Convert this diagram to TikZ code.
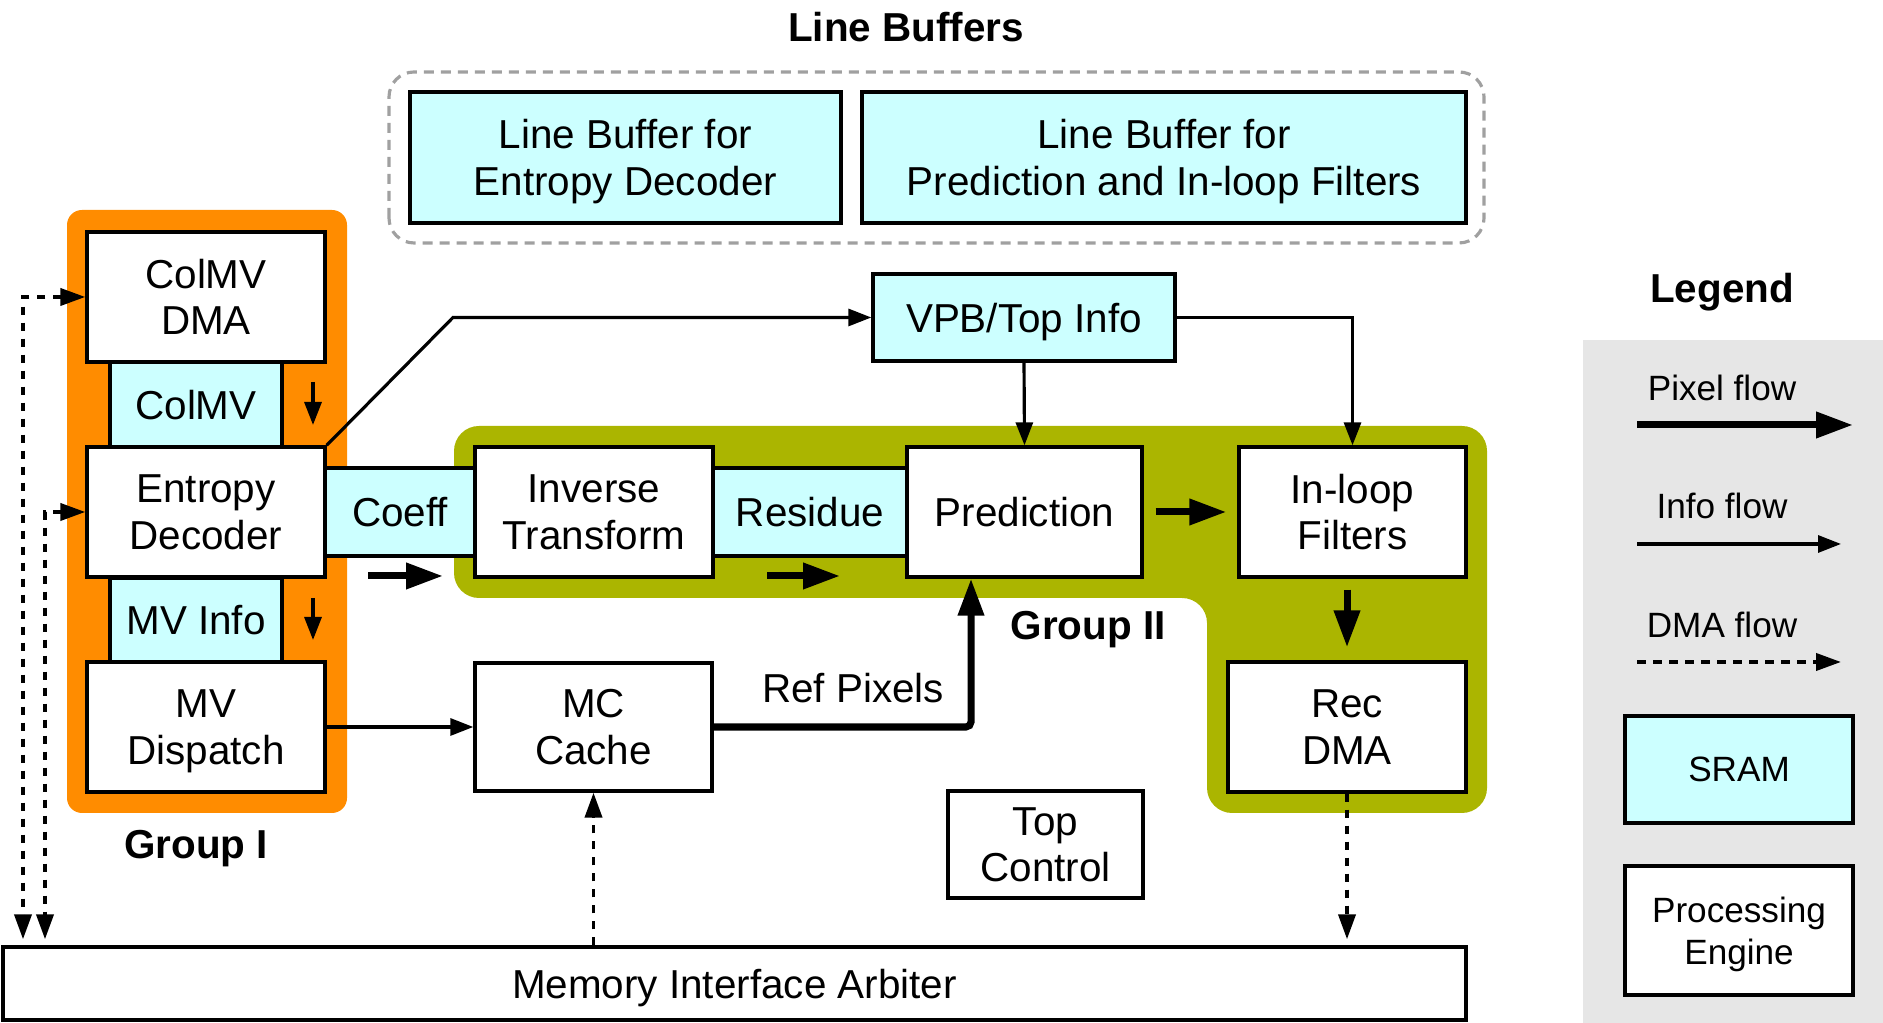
\documentclass[tikz,border=0pt]{standalone}
\usepackage{fontspec}
\setmainfont{Liberation Sans}
\usetikzlibrary{arrows.meta}
\definecolor{sramcyan}{RGB}{204,255,255}
\definecolor{grpone}{RGB}{255,140,0}
\definecolor{grptwo}{RGB}{171,181,0}
\definecolor{legendgray}{RGB}{230,230,230}
\definecolor{bufgray}{RGB}{160,160,160}

\tikzset{
  box/.style={draw, line width=0.95pt, fill=white, align=center, inner sep=0pt,
    text depth=0pt, font=\fontsize{11.5}{13.3}\selectfont},
  sram/.style={box, fill=sramcyan},
  legtext/.style={font=\fontsize{10}{12}\selectfont, align=center},
  grplabel/.style={font=\fontsize{11.5}{13.3}\selectfont\bfseries},
  infoflow/.style={line width=0.9pt, -{Triangle[length=2.3mm,width=1.7mm]}},
  pixflow/.style={line width=2pt, -{Triangle[length=3.7mm,width=2.5mm]}},
  dmaflow/.style={line width=1.1pt, dash pattern=on 0.85mm off 0.75mm,
    -{Triangle[length=2.5mm,width=1.7mm]}},
}

\begin{document}
\begin{tikzpicture}

\useasboundingbox (0,0) rectangle (18.83,10.23);

% Group backgrounds
\fill[grpone, rounded corners=1.5mm] (0.67,2.10) rectangle (3.47,8.13);
\fill[grptwo, rounded corners=2.5mm] (4.54,5.97) -- (14.87,5.97) -- (14.87,2.10)
  -- (12.07,2.10) -- (12.07,4.25) -- (4.54,4.25) -- cycle;
\draw[bufgray, line width=0.9pt, dash pattern=on 1mm off 0.7mm, rounded corners=2.5mm]
  (3.89,7.80) rectangle (14.84,9.51);

% Legend background
\fill[legendgray] (15.83,0) rectangle (18.83,6.83);

% Titles
\node[grplabel] (lbtitle) at (9.06,9.96) {Line Buffers};
\node[grplabel] (grp1) at (1.96,1.74) {Group I};
\node[grplabel] (grp2) at (10.88,3.93) {Group II};
\node[grplabel] (legtitle) at (17.22,7.31) {Legend};

% Line buffers
\node[sram, minimum width=4.31cm, minimum height=1.31cm] (lbed) at (6.255,8.655) {Line Buffer for\\Entropy Decoder};
\node[sram, minimum width=6.04cm, minimum height=1.31cm] (lbpf) at (11.64,8.655) {Line Buffer for\\Prediction and In-loop Filters};

% Group I
\node[box, minimum width=2.38cm, minimum height=1.30cm] (colmvdma) at (2.06,7.26) {ColMV\\DMA};
\node[sram, minimum width=1.72cm, minimum height=0.85cm] (colmv) at (1.96,6.185) {ColMV};
\node[box, minimum width=2.38cm, minimum height=1.30cm] (ed) at (2.06,5.11) {Entropy\\Decoder};
\node[sram, minimum width=1.72cm, minimum height=0.84cm] (mvinfo) at (1.96,4.03) {MV Info};
\node[box, minimum width=2.38cm, minimum height=1.30cm] (mvd) at (2.06,2.96) {MV\\Dispatch};

% Group II
\node[sram, minimum width=1.50cm, minimum height=0.88cm] (coeff) at (4.00,5.11) {Coeff};
\node[box, minimum width=2.38cm, minimum height=1.30cm] (it) at (5.94,5.11) {Inverse\\Transform};
\node[sram, minimum width=1.94cm, minimum height=0.88cm] (res) at (8.10,5.11) {Residue};
\node[box, minimum width=2.35cm, minimum height=1.30cm] (pred) at (10.245,5.11) {Prediction};
\node[box, minimum width=2.27cm, minimum height=1.30cm] (ilf) at (13.525,5.11) {In-loop\\Filters};
\node[box, minimum width=2.38cm, minimum height=1.30cm] (rec) at (13.47,2.96) {Rec\\DMA};

% Other blocks
\node[sram, minimum width=3.02cm, minimum height=0.87cm] (vpb) at (10.24,7.055) {VPB/Top Info};
\node[box, minimum width=2.37cm, minimum height=1.28cm] (mc) at (5.935,2.96) {MC\\Cache};
\node[box, minimum width=1.95cm, minimum height=1.07cm] (topctrl) at (10.455,1.785) {Top\\Control};
\node[box, minimum width=14.63cm, minimum height=0.73cm] (mia) at (7.345,0.395) {Memory Interface Arbiter};

% Info flow
\coordinate (edbend) at (4.53,7.055);
\draw[infoflow] (ed.north east) -- (edbend) -- (vpb.west);
\draw[infoflow] (vpb.south) -- (pred.north);
\draw[infoflow] (vpb.east) -| (ilf.north);
\draw[infoflow] (mvd.east) -- (mc.west);
\coordinate (colmvtop) at (3.13,6.41);
\coordinate (mvtop) at (3.13,4.25);
\draw[infoflow] (colmvtop) -- ++(0,-0.43);
\draw[infoflow] (mvtop) -- ++(0,-0.42);

% Pixel flow
\coordinate (coeffarr) at (3.68,4.47);
\coordinate (resarr) at (7.67,4.47);
\draw[pixflow] (coeffarr) -- ++(0.75,0);
\draw[pixflow] (resarr) -- ++(0.73,0);
\draw[pixflow, shorten <=1.2mm, shorten >=1.1mm] (pred.east) -- (ilf.west);
\draw[pixflow, shorten <=1.1mm, shorten >=1.3mm] (ilf.south -| rec.north) -- (rec.north);
\draw[pixflow, rounded corners=0.5mm] (mc.east) -| ([xshift=-5.35mm]pred.south);
\node[box, draw=none, fill=none] (refpix) at (8.53,3.35) {Ref Pixels};

% DMA flow
\coordinate (dmaouter) at (0.23,7.26);
\coordinate (dmainner) at (0.45,5.11);
\draw[dmaflow, {Triangle[length=2.5mm,width=1.7mm]}-{Triangle[length=2.5mm,width=1.7mm]}]
  (colmvdma.west) -- (dmaouter) -- ([yshift=0.6mm]dmaouter |- mia.north);
\draw[dmaflow, {Triangle[length=2.5mm,width=1.7mm]}-{Triangle[length=2.5mm,width=1.7mm]}]
  (ed.west) -- (dmainner) -- ([yshift=0.6mm]dmainner |- mia.north);
\draw[dmaflow] (mc.south |- mia.north) -- (mc.south);
\draw[dmaflow] (rec.south) -- ([yshift=0.6mm]rec.south |- mia.north);

% Legend
\node[legtext] (lpix) at (17.22,6.35) {Pixel flow};
\node[legtext] (linfo) at (17.22,5.17) {Info flow};
\node[legtext] (ldma) at (17.22,3.98) {DMA flow};
\coordinate (lpixa) at (16.37,5.98);
\coordinate (linfoa) at (16.37,4.79);
\coordinate (ldmaa) at (16.37,3.61);
\draw[pixflow] (lpixa) -- ++(2.16,0);
\draw[infoflow] (linfoa) -- ++(2.04,0);
\draw[dmaflow] (ldmaa) -- ++(2.04,0);
\node[sram, legtext, minimum width=2.28cm, minimum height=1.07cm] (lsram) at (17.39,2.535) {SRAM};
\node[box, legtext, minimum width=2.28cm, minimum height=1.29cm] (lpe) at (17.39,0.925) {Processing\\Engine};

\end{tikzpicture}
\end{document}
